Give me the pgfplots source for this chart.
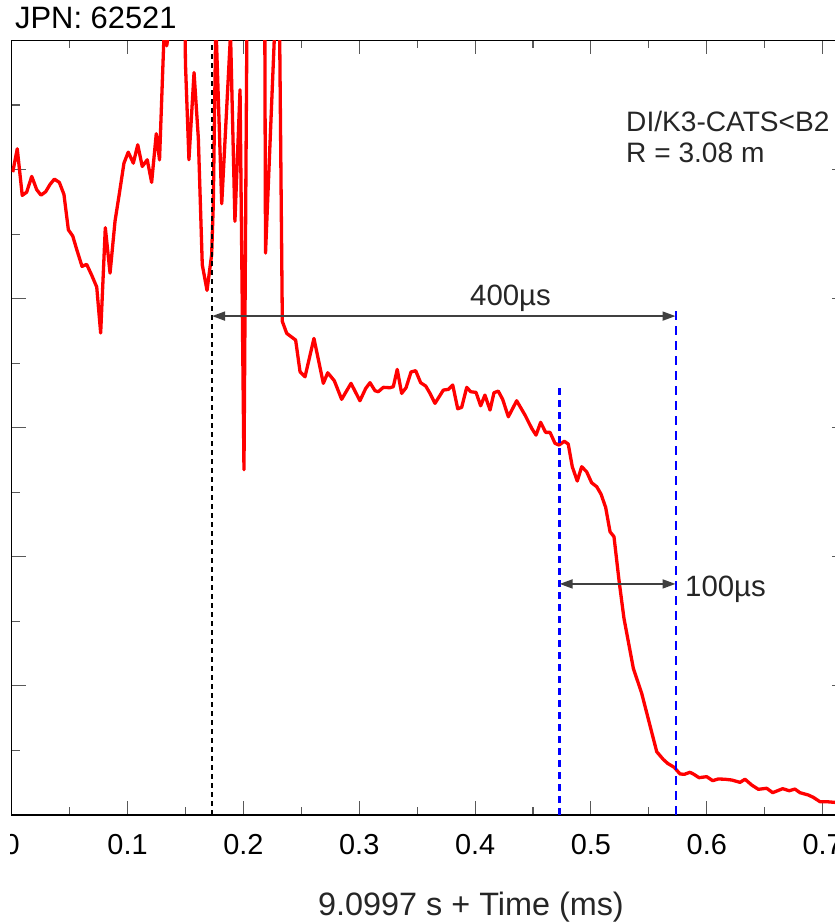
\documentclass[border=0pt]{standalone}
\usepackage{fontspec}
\setmainfont{Liberation Sans}
\usepackage{pgfplots}
\pgfplotsset{compat=1.18}
\usetikzlibrary{arrows.meta}
\definecolor{annot}{HTML}{404040}
\begin{document}
\begin{tikzpicture}
\useasboundingbox (-11.7bp,-107bp) rectangle (823.3bp,815bp);
\clip (-1bp,-107bp) rectangle (823.3bp,815bp);
\begin{axis}[
  at={(0,0)}, anchor=south west,
  scale only axis, width=834.1bp, height=774.5bp,
  xmin=0, xmax=0.72, ymin=0, ymax=6,
  xtick={0,0.1,0.2,0.3,0.4,0.5,0.6,0.7},
  xticklabels={0,0.1,0.2,0.3,0.4,0.5,0.6,0.7},
  minor x tick num=1,
  ytick={0,1,2,3,4,5,6}, yticklabels={}, minor y tick num=1,
  major tick length=14bp, minor tick length=8bp,
  tick style={draw=black!65, line width=1.1bp},
  axis line style={line width=1.3bp},
  xticklabel style={font=\fontsize{29}{33}\selectfont, anchor=base, yshift=-39bp},
  clip=true,
]
\addplot[red, line width=3.3bp, line join=round] coordinates {
(0.0009,4.980) (0.0048,5.161) (0.0091,4.800) (0.0129,4.825) (0.0173,4.947)
(0.0216,4.844) (0.0253,4.802) (0.0293,4.828) (0.0331,4.885) (0.0368,4.926)
(0.0411,4.901) (0.0451,4.808) (0.0489,4.534) (0.0527,4.485) (0.0561,4.382)
(0.0607,4.250) (0.0647,4.266) (0.0691,4.181) (0.0734,4.090) (0.0768,3.734)
(0.0808,4.550) (0.0849,4.198) (0.0892,4.601) (0.0929,4.813) (0.0969,5.050)
(0.1006,5.135) (0.1050,5.050) (0.1088,5.192) (0.1127,5.024) (0.1170,5.076)
(0.1208,4.901) (0.1248,5.278) (0.1276,5.075) (0.1317,6.10) (0.1338,5.959)
(0.1362,6.10) (0.1492,6.40) (0.1500,5.817) (0.1530,5.076) (0.1574,5.752)
(0.1611,5.244) (0.1645,4.263) (0.1686,4.064) (0.1726,4.340) (0.1740,4.727)
(0.1762,6.15) (0.1813,4.735) (0.1889,6.05) (0.1927,4.599) (0.1971,5.618)
(0.2005,2.675) (0.2031,6.20) (0.2184,6.35) (0.2191,4.353) (0.2273,6.15)
(0.2312,6.15) (0.2336,3.824) (0.2374,3.731) (0.2451,3.679) (0.2489,3.434)
(0.2532,3.395) (0.2609,3.692) (0.2690,3.344) (0.2728,3.426) (0.2785,3.364)
(0.2848,3.220) (0.2929,3.344) (0.3006,3.209) (0.3056,3.305) (0.3093,3.349)
(0.3136,3.287) (0.3164,3.279) (0.3208,3.313) (0.3265,3.310) (0.3294,3.318)
(0.3328,3.452) (0.3366,3.266) (0.3404,3.310) (0.3447,3.432) (0.3487,3.442)
(0.3530,3.349) (0.3574,3.323) (0.3611,3.266) (0.3654,3.189) (0.3726,3.292)
(0.3769,3.297) (0.3807,3.331) (0.3850,3.147) (0.3884,3.158) (0.3928,3.313)
(0.3962,3.279) (0.4008,3.274) (0.4048,3.170) (0.4085,3.253) (0.4129,3.137)
(0.4163,3.271) (0.4200,3.284) (0.4238,3.220) (0.4287,3.085) (0.4359,3.209)
(0.4431,3.098) (0.4489,2.995) (0.4526,2.943) (0.4566,3.042) (0.4609,2.964)
(0.4647,2.964) (0.4690,2.879) (0.4725,2.866) (0.4770,2.895) (0.4804,2.874)
(0.4839,2.698) (0.4882,2.587) (0.4920,2.698) (0.4963,2.659) (0.5006,2.574)
(0.5050,2.543) (0.5087,2.486) (0.5127,2.383) (0.5165,2.194) (0.5199,2.156)
(0.5242,1.820) (0.5285,1.524) (0.5366,1.136) (0.5438,0.943) (0.5568,0.490)
(0.5624,0.431) (0.5662,0.400) (0.5719,0.369) (0.5769,0.318) (0.5806,0.315)
(0.5855,0.331) (0.5889,0.315) (0.5933,0.289) (0.5999,0.297) (0.6051,0.266)
(0.6099,0.279) (0.6157,0.277) (0.6215,0.271) (0.6287,0.253) (0.6330,0.277)
(0.6388,0.232) (0.6445,0.199) (0.6517,0.207) (0.6569,0.173) (0.6655,0.204)
(0.6712,0.188) (0.6761,0.201) (0.6804,0.173) (0.6876,0.155) (0.6919,0.137)
(0.6977,0.103) (0.7035,0.103) (0.7115,0.097) (0.7200,0.090)
};
\addplot[black, line width=2.2bp, dash pattern=on 5bp off 4bp] coordinates {(0.173,0) (0.173,6)};
\addplot[blue, line width=3bp, dash pattern=on 7bp off 5bp] coordinates {(0.473,0) (0.473,3.32)};
\addplot[blue, line width=2bp, dash pattern=on 9bp off 6bp] coordinates {(0.573,0) (0.573,3.95)};
\draw[annot, line width=1.8bp, {Triangle[length=13bp,width=9bp]}-{Triangle[length=13bp,width=9bp]}]
  (axis cs:0.173,3.865) -- (axis cs:0.573,3.865);
\draw[annot, line width=1.8bp, {Triangle[length=13bp,width=9bp]}-{Triangle[length=13bp,width=9bp]}]
  (axis cs:0.473,1.79) -- (axis cs:0.573,1.79);
\node[anchor=base west, inner sep=0pt, font=\fontsize{29.5}{33}\selectfont, text=black!85]
  at (axis cs:0.3956,3.95) {400µs};
\node[anchor=base west, inner sep=0pt, font=\fontsize{29.5}{33}\selectfont, text=black!85]
  at (axis cs:0.5812,1.696) {100µs};
\node[anchor=base west, inner sep=0pt, font=\fontsize{28.2}{32}\selectfont, text=black!85]
  at (axis cs:0.5303,5.293) {DI/K3-CATS<B2};
\node[anchor=base west, inner sep=0pt, font=\fontsize{28.2}{32}\selectfont, text=black!85]
  at (axis cs:0.5303,5.056) {R = 3.08 m};
\end{axis}
\node[anchor=base west, inner sep=0pt, font=\fontsize{31}{36}\selectfont] at (3.3bp,786.7bp) {JPN: 62521};
\node[anchor=base, inner sep=0pt, font=\fontsize{32.5}{38}\selectfont, text=black!85] at (459.3bp,-100bp) {9.0997 s + Time (ms)};
\end{tikzpicture}
\end{document}
